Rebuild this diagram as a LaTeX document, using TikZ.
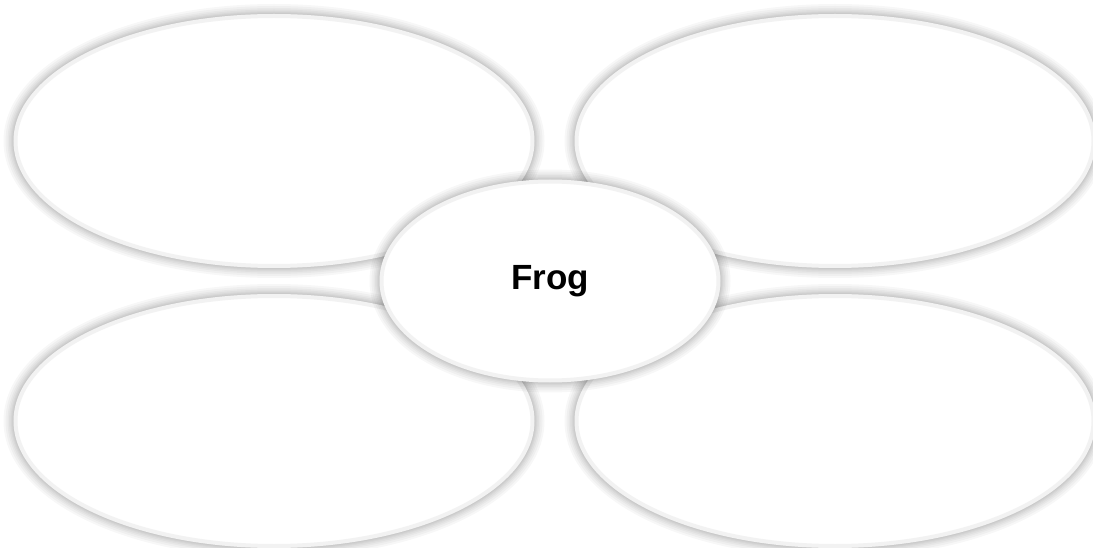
\documentclass[tikz,border=0pt]{standalone}
\usepackage{fontspec}
\setmainfont{Liberation Sans}
\usetikzlibrary{shapes.geometric}

\tikzset{
  glow/.style={preaction={draw=black,opacity=0.03,line width=#1}},
  petal/.style={ellipse,draw=black!5,line width=4pt,fill=white,
    minimum width=517pt,minimum height=250pt,
    glow=24pt,glow=20pt,glow=16pt,glow=13pt,glow=10pt,glow=8pt,glow=6pt},
  hub/.style={petal,minimum width=337pt,minimum height=199pt,font=\bfseries\fontsize{35}{40}\selectfont}
}

\begin{document}
\begin{tikzpicture}[x=1pt,y=1pt]
  \useasboundingbox[fill=white] (0,0) rectangle (1093,-548);
  \node[petal] (topleft) at (274,-141) {};
  \node[petal] (topright) at (835,-141) {};
  \node[petal] (botleft) at (274,-421) {};
  \node[petal] (botright) at (835,-421) {};
  \node[hub] (frog) at (550,-281) {Frog};
\end{tikzpicture}
\end{document}
